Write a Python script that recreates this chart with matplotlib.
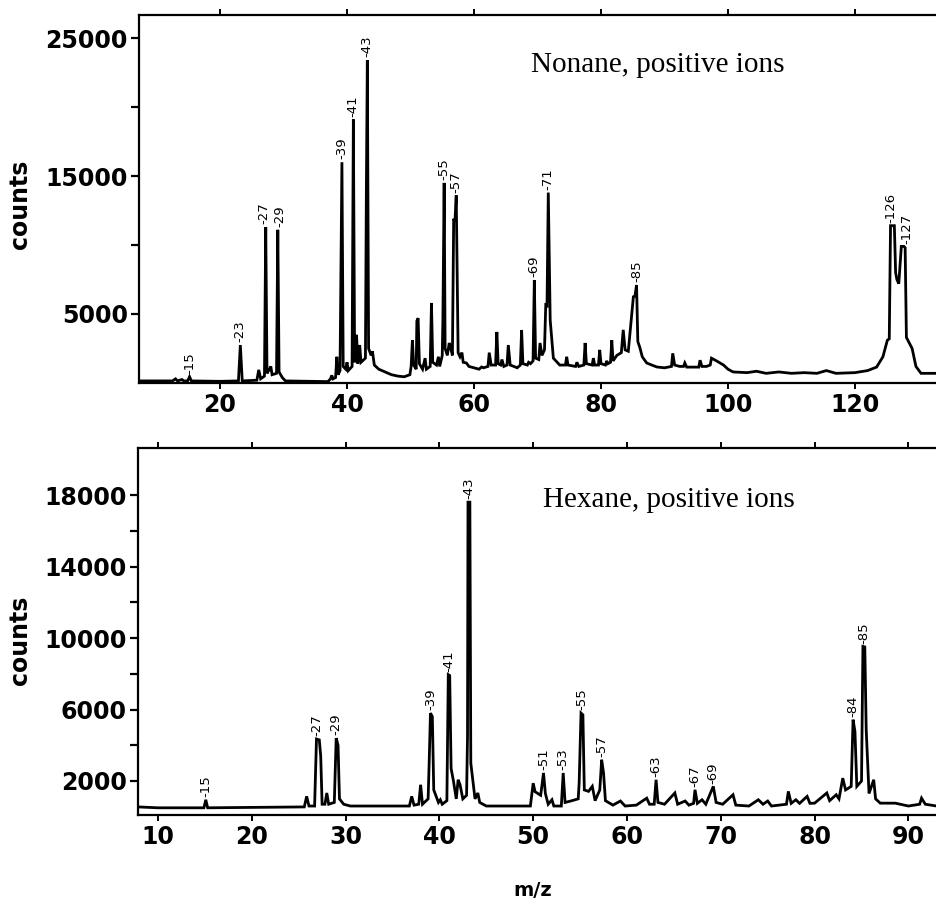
import numpy as np
import matplotlib
matplotlib.use('Agg')
import matplotlib.pyplot as plt

# Nonane trace (m/z, counts)
nonane_mz = [7.3, 12.5, 13.0, 13.3, 14.0, 14.3, 14.9, 15.2, 15.5, 20.0,
             22.9, 23.2, 23.5, 25.8, 26.1, 26.4, 27.0, 27.2, 27.4, 27.8,
             28.0, 28.2, 28.9, 29.1, 29.3, 29.8, 30.3, 37.0, 37.4, 37.6,
             37.8, 38.2, 38.4, 38.6, 38.9, 39.0, 39.2, 39.4, 39.8, 40.0,
             40.2, 40.8, 41.0, 41.2, 41.5, 41.7, 42.0, 42.2, 42.9, 43.05,
             43.2, 43.4, 43.8, 44.0, 44.3, 45.0, 46.0, 47.0, 48.0, 49.0,
             49.9, 50.1, 50.3, 50.5, 50.9, 51.0, 51.2, 51.4, 51.9, 52.3,
             52.5, 53.1, 53.3, 53.5, 54.1, 54.4, 54.6, 55.0, 55.1, 55.3,
             55.45, 55.8, 56.1, 56.3, 56.6, 56.8, 57.0, 57.2, 57.5, 57.8,
             58.1, 58.3, 58.8, 59.2, 60.0, 60.8, 61.2, 61.5, 62.2, 62.4,
             62.7, 63.4, 63.6, 63.8, 64.2, 64.4, 64.7, 65.2, 65.4, 65.7,
             66.3, 66.5, 66.8, 67.3, 67.5, 67.7, 68.4, 68.6, 68.9, 69.3,
             69.5, 69.7, 70.2, 70.4, 70.7, 71.1, 71.3, 71.5, 71.7, 72.0,
             72.5, 73.5, 74.4, 74.6, 74.8, 76.0, 76.2, 76.5, 77.3, 77.5,
             77.7, 78.6, 78.8, 79.0, 79.6, 79.8, 80.0, 80.7, 80.9, 81.1,
             81.5, 81.7, 81.9, 82.5, 83.2, 83.5, 83.8, 84.3, 85.1, 85.35,
             85.6, 85.8, 86.1, 86.5, 87.2, 88.0, 88.8, 90.0, 91.1, 91.3,
             91.6, 92.4, 93.0, 93.2, 93.5, 94.3, 95.4, 95.6, 95.9, 96.6,
             97.2, 97.4, 98.2, 99.3, 100.0, 100.8, 103.0, 104.5, 106.0, 108.0,
             110.0, 112.0, 114.0, 115.5, 117.0, 120.0, 122.0, 123.4, 124.4, 125.1,
             125.4, 125.6, 126.2, 126.4, 126.6, 126.9, 127.3, 127.7, 127.9, 128.1,
             129.0, 129.6, 130.4, 132.8]
nonane_counts = [150, 150, 300, 150, 250, 150, 150, 450, 150, 120,
                 150, 2750, 150, 200, 950, 300, 500, 11300, 700, 1000,
                 1200, 600, 700, 11100, 800, 400, 150, 100, 300, 550,
                 300, 400, 1900, 600, 900, 5900, 16000, 1200, 1000, 1500,
                 900, 1200, 19100, 1500, 3500, 1400, 2750, 1500, 1800, 14000,
                 23400, 2500, 2000, 2300, 1300, 1000, 800, 600, 500, 450,
                 600, 1200, 3100, 1300, 1000, 4500, 4700, 1400, 1000, 1800,
                 1000, 1200, 5800, 1500, 1300, 1900, 1200, 2000, 4600, 14500,
                 2500, 2000, 2900, 2600, 2000, 11900, 11700, 13600, 2200, 1900,
                 2200, 1500, 1450, 1200, 1100, 1000, 1160, 1100, 1200, 2200,
                 1300, 1300, 3700, 1400, 1300, 1700, 1200, 1300, 2750, 1300,
                 1200, 1160, 1100, 1300, 3840, 1400, 1300, 1500, 1400, 1600,
                 7450, 1800, 1700, 2900, 2000, 2400, 5650, 5600, 13800, 4550,
                 1800, 1300, 1300, 1900, 1300, 1200, 1500, 1200, 1300, 2900,
                 1400, 1300, 1800, 1300, 1300, 2400, 1400, 1300, 1600, 1400,
                 1500, 3100, 1600, 2000, 2200, 3850, 2400, 2300, 6250, 6300,
                 7100, 3000, 2600, 1900, 1450, 1300, 1160, 1100, 1200, 2150,
                 1300, 1200, 1200, 1450, 1150, 1150, 1150, 1650, 1200, 1200,
                 1300, 1800, 1600, 1300, 1000, 800, 750, 850, 700, 800,
                 700, 750, 700, 900, 700, 750, 900, 1150, 1900, 3100,
                 3200, 11400, 11400, 8000, 7500, 7200, 9900, 9900, 9800, 3300,
                 2500, 1200, 700, 700]

# Hexane trace (m/z, counts)
hexane_mz = [7.9, 10.0, 14.9, 15.1, 15.3, 25.6, 25.85, 26.1, 26.7, 26.9,
             27.2, 27.35, 27.5, 27.8, 28.0, 28.2, 28.8, 29.0, 29.2, 29.35,
             29.8, 30.5, 36.8, 37.05, 37.3, 37.8, 38.0, 38.2, 38.8, 38.9,
             39.05, 39.25, 39.4, 39.9, 40.1, 40.3, 40.8, 40.95, 41.1, 41.25,
             41.5, 41.8, 42.0, 42.2, 42.5, 42.9, 43.0, 43.05, 43.25, 43.35,
             43.8, 44.1, 44.3, 45.0, 49.7, 50.0, 50.2, 50.8, 51.1, 51.3,
             51.6, 52.0, 52.2, 53.0, 53.2, 53.4, 54.0, 54.8, 54.9, 55.1,
             55.3, 55.45, 55.9, 56.3, 56.6, 57.1, 57.3, 57.5, 57.7, 58.5,
             59.3, 59.8, 61.0, 62.1, 62.4, 62.9, 63.1, 63.3, 64.0, 65.1,
             65.4, 66.2, 66.6, 67.1, 67.25, 67.5, 68.0, 68.4, 69.2, 69.5,
             70.2, 71.3, 71.6, 73.0, 74.0, 74.5, 75.0, 75.4, 77.0, 77.2,
             77.5, 78.0, 78.4, 79.2, 79.5, 80.0, 81.3, 81.6, 82.3, 82.6,
             83.0, 83.3, 83.9, 84.1, 84.3, 84.5, 85.0, 85.15, 85.35, 85.5,
             85.8, 86.3, 86.5, 87.0, 88.6, 90.0, 91.2, 91.4, 91.8, 93.0]
hexane_counts = [550, 500, 500, 950, 500, 550, 1140, 600, 600, 4350,
                 4300, 3400, 700, 700, 1330, 700, 800, 4400, 4000, 1000,
                 700, 600, 600, 1140, 650, 700, 1790, 700, 1000, 2800,
                 5800, 5600, 1500, 800, 950, 700, 900, 7950, 7900, 2700,
                 2000, 1000, 2070, 1800, 1000, 1200, 4500, 17600, 17600, 3000,
                 1000, 1330, 800, 600, 600, 1880, 1400, 1200, 2450, 1300,
                 700, 950, 600, 600, 2450, 800, 880, 1000, 1880, 5800,
                 5700, 1500, 1420, 1700, 900, 1500, 3190, 2450, 900, 650,
                 880, 600, 650, 1040, 700, 700, 2070, 800, 700, 1330,
                 700, 880, 650, 750, 1510, 750, 950, 700, 1700, 800,
                 700, 1230, 650, 600, 950, 700, 880, 600, 700, 1420,
                 750, 950, 750, 1140, 750, 760, 1330, 900, 1230, 1000,
                 2160, 1500, 1700, 5430, 4770, 1700, 2000, 9530, 9500, 4870,
                 1300, 2070, 1000, 760, 760, 600, 700, 1040, 700, 600]

# labelled peaks (m/z, top counts, text)
nonane_peak_mz = [15.2, 23.2, 27.2, 29.1, 39.2, 41.0, 43.2, 55.3, 57.2, 69.5, 71.7, 85.6, 126.2, 127.6]
nonane_peak_top = [450, 2750, 11300, 11100, 16000, 19100, 23400, 14500, 13600, 7450, 13800, 7100, 11400, 9900]
nonane_peak_text = ['15', '23', '27', '29', '39', '41', '43', '55', '57', '69', '71', '85', '126', '127']

hexane_peak_mz = [15.1, 26.9, 29.0, 39.1, 41.0, 43.15, 51.1, 53.2, 55.2, 57.3, 63.1, 67.25, 69.2, 84.1, 85.25]
hexane_peak_top = [950, 4350, 4400, 5800, 7950, 17600, 2450, 2450, 5800, 3190, 2070, 1510, 1700, 5430, 9530]
hexane_peak_text = ['15', '27', '29', '39', '41', '43', '51', '53', '55', '57', '63', '67', '69', '84', '85']

# small sideways nudges (points) for crowded labels
nudge = {'27': -1.5, '29': 1.5, '126': -2.5, '127': 2.5}

fig = plt.figure(figsize=(9.36, 9.02), dpi=100)
ax1 = fig.add_axes([0.1485, 0.5754, 0.8515, 0.408])
ax2 = fig.add_axes([0.1474, 0.0965, 0.8526, 0.4068])


def style_axis(ax, major_y, minor_y, xticks):
    for side in ['left', 'bottom', 'top']:
        ax.spines[side].set_linewidth(1.6)
    ax.spines['right'].set_visible(False)
    ax.set_yticks(major_y)
    ax.set_yticks(minor_y, minor=True)
    ax.set_yticklabels([str(v) for v in major_y])
    ax.set_xticks(xticks)
    ax.tick_params(axis='y', which='both', direction='out', length=6, width=1.6,
                   labelsize=17, pad=2)
    ax.tick_params(axis='x', direction='out', length=4, width=1.4, top=True,
                   labelsize=17, pad=3)
    for lab in ax.get_xticklabels() + ax.get_yticklabels():
        lab.set_fontweight('bold')


def label_peaks(ax, mz, top, text, shifts):
    for m, h, t in zip(mz, top, text):
        dx = shifts.get(t, 0)
        ax.annotate('-' + t, xy=(m, h), xytext=(dx, 2), textcoords='offset points',
                    rotation=90, ha='center', va='bottom', fontsize=9.5)


ax1.plot(nonane_mz, nonane_counts, color='black', lw=2.0, solid_joinstyle='miter')
ax1.set_xlim(7.24, 132.76)
ax1.set_ylim(0, 26670)
style_axis(ax1, [5000, 15000, 25000], [10000, 20000], [20, 40, 60, 80, 100, 120])
label_peaks(ax1, nonane_peak_mz, nonane_peak_top, nonane_peak_text, nudge)

ax2.plot(hexane_mz, hexane_counts, color='black', lw=2.0, solid_joinstyle='miter')
ax2.set_xlim(7.87, 92.94)
ax2.set_ylim(100, 20630)
style_axis(ax2, [2000, 6000, 10000, 14000, 18000], [4000, 8000, 12000, 16000],
           [10, 20, 30, 40, 50, 60, 70, 80, 90])
label_peaks(ax2, hexane_peak_mz, hexane_peak_top, hexane_peak_text, {})

fig.text(0.567, 0.928, 'Nonane, positive ions', family='Liberation Serif',
         fontsize=21, va='center', ha='left')
fig.text(0.580, 0.4457, 'Hexane, positive ions', family='Liberation Serif',
         fontsize=21, va='center', ha='left')
fig.text(0.021, 0.773, 'counts', rotation=90, fontsize=17, fontweight='bold',
         ha='center', va='center')
fig.text(0.021, 0.29, 'counts', rotation=90, fontsize=17, fontweight='bold',
         ha='center', va='center')
fig.text(0.5695, 0.0133, 'm/z', fontsize=14, fontweight='bold', ha='center', va='center')

fig.savefig('out.png', dpi=100)
